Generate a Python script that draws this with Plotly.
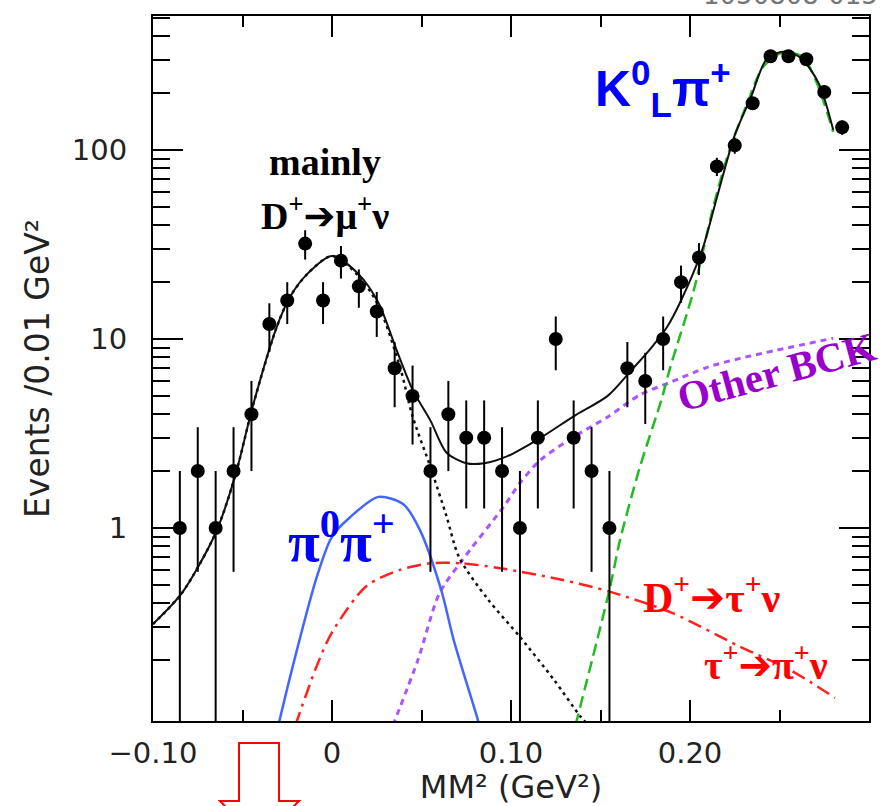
import numpy as np
import plotly.graph_objects as go

# ---------------- data ----------------
bin_centers = [-0.085, -0.075, -0.065, -0.055, -0.045, -0.035, -0.025, -0.015, -0.005,
               0.005, 0.015, 0.025, 0.035, 0.045, 0.055, 0.065, 0.075, 0.085, 0.095,
               0.105, 0.115, 0.125, 0.135, 0.145, 0.155, 0.165, 0.175, 0.185, 0.195,
               0.205, 0.215, 0.225, 0.235, 0.245, 0.255, 0.265, 0.275, 0.285]
counts = [1, 2, 1, 2, 4, 12, 16, 32, 16,
          26, 19, 14, 7, 5, 2, 4, 3, 3, 2,
          1, 3, 10, 3, 2, 1, 7, 6, 10, 20,
          27, 82, 106, 177, 314, 314, 303, 203, 132]

# total fit (black solid)
fit_x = [-0.100, -0.084, -0.065, -0.054, -0.044, -0.031, -0.0235, -0.014, 0.000, 0.015,
         0.026, 0.036, 0.045, 0.055, 0.064, 0.075, 0.085, 0.098, 0.1165, 0.135, 0.154,
         0.167, 0.178, 0.187, 0.195, 0.207, 0.215, 0.225, 0.234, 0.243, 0.253, 0.262,
         0.272, 0.280]
fit_y = [0.31, 0.45, 0.94, 1.9, 4.5, 11.5, 16.7, 22, 27.5, 22,
         15.5, 8.8, 5.4, 3.7, 2.5, 2.2, 2.2, 2.4, 3.0, 3.9, 5.0,
         6.8, 8.9, 11.5, 16, 30, 56, 120, 190, 305, 333, 307,
         225, 128]

# D+ -> mu+ nu signal (black dotted)
mu_x = [-0.100, -0.084, -0.065, -0.054, -0.044, -0.031, -0.0235, -0.014, 0.000, 0.015,
        0.026, 0.038, 0.045, 0.055, 0.064, 0.071, 0.087, 0.105, 0.124, 0.139, 0.146]
mu_y = [0.31, 0.45, 0.94, 1.9, 4.5, 11.5, 16.7, 22, 27.5, 21.5,
        15, 7.1, 3.9, 2.1, 1.15, 0.70, 0.42, 0.265, 0.157, 0.10, 0.085]

# pi0 pi+ (blue solid)
pipi_x = [-0.030, -0.022, -0.0085, 0.000, 0.0101, 0.026, 0.040, 0.049, 0.061, 0.068, 0.081, 0.083]
pipi_y = [0.09, 0.184, 0.55, 0.9, 1.14, 1.46, 1.33, 0.98, 0.47, 0.255, 0.1, 0.085]

# D+ -> tau+ nu, tau+ -> pi+ nu (red dash-dot)
tau_x = [-0.0205, -0.0086, 0.000, 0.019, 0.038, 0.055, 0.072, 0.095, 0.129, 0.155,
         0.190, 0.228, 0.256, 0.281]
tau_y = [0.09, 0.185, 0.28, 0.49, 0.60, 0.65, 0.65, 0.61, 0.53, 0.46,
         0.355, 0.235, 0.177, 0.126]

# other background (purple dotted)
bck_x = [0.034, 0.048, 0.060, 0.072, 0.096, 0.105, 0.1165, 0.135, 0.154, 0.172, 0.188,
         0.210, 0.228, 0.280]
bck_y = [0.09, 0.2, 0.45, 0.66, 1.3, 1.73, 2.29, 3.03, 3.87, 5.06, 5.85,
         7.1, 7.9, 10.1]

# K0L pi+ (green dashed)
kpi_x = [0.136, 0.155, 0.161, 0.172, 0.184, 0.189, 0.202, 0.213, 0.222, 0.232, 0.241,
         0.252, 0.263, 0.271, 0.280]
kpi_y = [0.09, 0.47, 0.87, 2.1, 4.75, 7.1, 18, 50, 100, 177, 277,
         330, 311, 225, 125]

x_tick_vals = [-0.10, 0.0, 0.10, 0.20, 0.30]
x_tick_text = ["\u22120.10", "0", "0.10", "0.20", ""]
x_minor_vals = [-0.05, 0.05, 0.15, 0.25]
y_tick_vals = [1, 10, 100]
y_tick_text = ["1", "10", "100"]
y_minor_vals = [0.2, 0.3, 0.4, 0.5, 0.6, 0.7, 0.8, 0.9,
                2, 3, 4, 5, 6, 7, 8, 9,
                20, 30, 40, 50, 60, 70, 80, 90,
                200, 300, 400, 500]

# ---------------- figure ----------------
W, H = 890, 806
L, R, T, B = 153, 21, 16, 85
PW, PH = W - L - R, H - T - B


def px(x):
    return (x - L) / PW


def py(y):
    return (H - B - y) / PH


fig = go.Figure()

curve_specs = [
    (bck_x, bck_y, "#AA55FF", "6px,5px", 3),
    (tau_x, tau_y, "#FF2020", "14px,6px,3px,6px", 2.5),
    (pipi_x, pipi_y, "#4466FF", "solid", 2.5),
    (kpi_x, kpi_y, "#22BB22", "12px,6px", 2.5),
    (mu_x, mu_y, "#111111", "3px,4px", 2.5),
    (fit_x, fit_y, "#111111", "solid", 2),
]
for cx, cy, col, dash, w in curve_specs:
    fig.add_trace(go.Scatter(x=cx, y=cy, mode="lines",
                             line=dict(color=col, dash=dash, width=w, shape="spline", smoothing=0.8),
                             hoverinfo="skip"))

err = np.sqrt(np.array(counts, dtype=float))
fig.add_trace(go.Scatter(
    x=bin_centers, y=counts, mode="markers",
    marker=dict(color="black", size=14),
    error_y=dict(type="data", array=err, visible=True, color="black", thickness=2, width=0),
))

serif = "Liberation Serif, Times New Roman, serif"
sans = "Liberation Sans, Arial, sans-serif"
arrow = "<span style='font-family:DejaVu Sans'>\u2794</span>"
annots = [
    ("mainly", 325, 162, 0, dict(family=serif, size=38, color="black", weight="bold")),
    ("D<sup>+</sup>" + arrow + "\u03bc<sup>+</sup>\u03bd", 325, 214, 0,
     dict(family=serif, size=38, color="black", weight="bold")),
    ("K<sup>0</sup><sub>L</sub>\u03c0<sup>+</sup>", 663, 88, 0,
     dict(family=sans, size=50, color="#0000FF", weight="bold")),
    ("\u03c0<sup>0</sup>\u03c0<sup>+</sup>", 341, 537, 0,
     dict(family=serif, size=58, color="#0000FF", weight="bold")),
    ("D<sup>+</sup>" + arrow + "\u03c4<sup>+</sup>\u03bd", 711, 595, 0,
     dict(family=serif, size=42, color="#FF0000", weight="bold")),
    ("\u03c4<sup>+</sup>" + arrow + "\u03c0<sup>+</sup>\u03bd", 766, 662, 0,
     dict(family=serif, size=40, color="#FF0000", weight="bold")),
    ("Other BCK", 776, 372, -15, dict(family=serif, size=41, color="#9900CC", weight="bold")),
]
for txt, ax_, ay_, ang, f in annots:
    fig.add_annotation(text=txt, x=px(ax_), y=py(ay_), xref="paper", yref="paper",
                       xanchor="center", yanchor="middle", showarrow=False,
                       textangle=ang, font=f)

# partially visible figure id at the very top
fig.add_annotation(text="1050808-015", x=px(790), y=py(12), xref="paper", yref="paper",
                   xanchor="center", yanchor="bottom", showarrow=False,
                   font=dict(family="DejaVu Sans", size=26, color="#777777"))

# hollow red arrow below the axis
arrow_pts = [(220, 801), (239, 801), (239, 743), (279, 743), (279, 801), (299, 801), (259, 841)]
path = "M " + " L ".join(f"{px(a):.5f},{py(b):.5f}" for a, b in arrow_pts) + " Z"
fig.add_shape(type="path", path=path, xref="paper", yref="paper",
              line=dict(color="#FF0000", width=2), fillcolor="rgba(0,0,0,0)")

axis_font = dict(family="DejaVu Sans", size=29, color="#222222")
fig.update_layout(
    width=W, height=H, margin=dict(l=L, r=R, t=T, b=B, autoexpand=False),
    plot_bgcolor="white", paper_bgcolor="white", showlegend=False,
    xaxis=dict(range=[-0.10, 0.30], showgrid=False, zeroline=False, automargin=False,
               showline=True, linecolor="black", linewidth=2, mirror="ticks",
               ticks="inside", ticklen=21, tickwidth=2, tickcolor="black",
               tickmode="array", tickvals=x_tick_vals, ticktext=x_tick_text,
               tickfont=axis_font, ticklabelstandoff=5,
               minor=dict(tickvals=x_minor_vals, ticks="inside", ticklen=11,
                          tickwidth=2, tickcolor="black", showgrid=False),
               title=dict(text="MM\u00b2 (GeV\u00b2)", standoff=12,
                          font=dict(family="DejaVu Sans", size=32, color="#222222"))),
    yaxis=dict(type="log", range=[-1.022, 2.71], showgrid=False, zeroline=False, automargin=False,
               showline=True, linecolor="black", linewidth=2, mirror="ticks",
               ticks="inside", ticklen=30, tickwidth=2, tickcolor="black",
               tickmode="array", tickvals=y_tick_vals, ticktext=y_tick_text,
               tickfont=axis_font, ticklabelstandoff=18,
               minor=dict(tickvals=y_minor_vals, ticks="inside", ticklen=17,
                          tickwidth=2, tickcolor="black", showgrid=False),
               title=dict(text="Events /0.01 GeV\u00b2", standoff=12,
                          font=dict(family="DejaVu Sans", size=33, color="#222222"))),
)

fig.write_html("out.html", config={"displayModeBar": False},
               post_script="document.body.style.margin='0';document.body.style.overflow='hidden';")
